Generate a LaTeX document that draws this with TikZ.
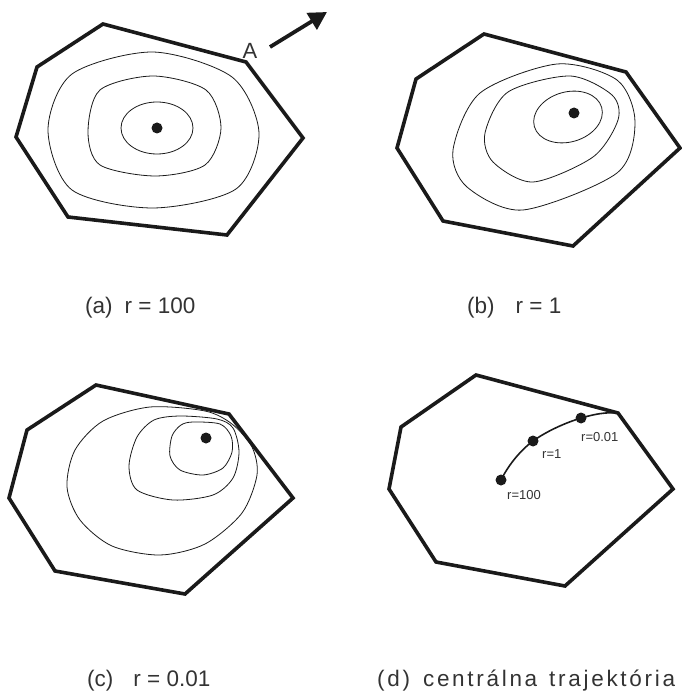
\documentclass[tikz,border=0pt]{standalone}
\usepackage{fontspec}
\setmainfont{Liberation Sans}
\usetikzlibrary{arrows.meta}
\definecolor{ink}{HTML}{1A1A1A}
\definecolor{label}{HTML}{333333}

\begin{document}
\begin{tikzpicture}[
  x=1pt,y=-1pt,
  border/.style={draw=ink,line width=3.6pt,line join=miter},
  level/.style={draw=ink,line width=0.8pt},
  optdot/.style={circle,fill=ink,inner sep=0pt,minimum size=11pt},
  caption/.style={anchor=west,inner sep=0pt,text=label,font=\fontsize{22.5}{25}\selectfont},
  rlabel/.style={anchor=west,inner sep=0pt,text=label,font=\fontsize{13}{15}\selectfont},
  arrow/.style={-{Triangle[length=18pt,width=19pt]},line width=3.8pt,draw=ink}
]
\useasboundingbox (0,0) rectangle (681,692);

\draw[border] (103,24) -- (246,62) -- (303,138) -- (227,235) -- (68,217) -- (16,137) -- (37,67) -- cycle;
\draw[level] plot[smooth cycle] coordinates {(153,52) (232,77) (259,133) (236,189) (153,208) (72,190) (48,130) (72,74)};
\draw[level] plot[smooth cycle] coordinates {(153,76) (206,90) (221,128) (205,165) (155,176) (100,165) (88,132) (100,90)};
\draw[level] (157,128) ellipse[x radius=36,y radius=26];
\node[optdot] (ma) at (157,128) {};
\node[anchor=center,inner sep=0pt,text=label,font=\fontsize{22}{24}\selectfont] (lA) at (250,51) {A};
\coordinate (arrS) at (270,47);
\coordinate (arrE) at (327,12);
\draw[arrow] (arrS) -- (arrE);
\node[caption] (capa) at (85,308) {(a)\hspace{12pt}r = 100};

\draw[border] (484,34) -- (626,72) -- (680,148) -- (573,246) -- (443,221) -- (397,148) -- (416,79) -- cycle;
\draw[level] plot[smooth cycle] coordinates {(557,64) (617,80) (635,122) (617,173) (523,210) (467,187) (453,150) (480,93)};
\draw[level] plot[smooth cycle] coordinates {(570,76) (612,95) (618,120) (593,157) (533,182) (493,162) (485,133) (508,92)};
\draw[level,rotate around={16:(568,117)}] (568,117) ellipse[x radius=35,y radius=25];
\node[optdot] (mb) at (574,113) {};
\node[caption] (capb) at (467,308) {(b)\hspace{21pt}r = 1};

\draw[border] (96,385) -- (229,414) -- (293,498) -- (185,594) -- (55,571) -- (9,498) -- (27,430) -- cycle;
\draw[level] plot[smooth cycle] coordinates {(150,407) (205,411) (232,424) (252,447) (257,475) (242,513) (205,544) (160,555) (112,546) (80,520) (67,487) (75,450) (103,421)};
\draw[level] plot[smooth cycle] coordinates {(180,416) (217,419) (233,428) (239,452) (233,478) (213,495) (173,500) (137,490) (129,466) (137,437) (154,420)};
\draw[level] plot[smooth cycle] coordinates {(193,422) (220,424) (231,436) (232,452) (223,468) (203,475) (180,470) (170,456) (172,436) (181,425)};
\node[optdot] (mc) at (206,438) {};
\node[caption] (capc) at (87,681) {(c)\hspace{20pt}r = 0.01};

\draw[border] (476,375) -- (618,413) coordinate (dv) -- (673,489) -- (565,586) -- (436,562) -- (389,489) -- (401,427) -- cycle;
\node[optdot] (m100) at (501,480) {};
\node[optdot] (m1) at (533,441) {};
\node[optdot] (m001) at (581,418) {};
\draw[ink,line width=1.6pt] (m100.center) .. controls +(8,-16) and +(-12,9) .. (m1.center)
  .. controls +(14,-10) and +(-16,5) .. (m001.center) .. controls +(14,-4) and +(-12,-1) .. (dv);
\node[rlabel] (l100) at (507,495) {r=100};
\node[rlabel] (l1) at (542,454) {r=1};
\node[rlabel] (l001) at (581,437) {r=0.01};
\node[caption] (capd) at (377,681) {\addfontfeature{LetterSpace=12}(d)\hspace{13pt}centrálna\hspace{12pt}trajektória};
\end{tikzpicture}
\end{document}
